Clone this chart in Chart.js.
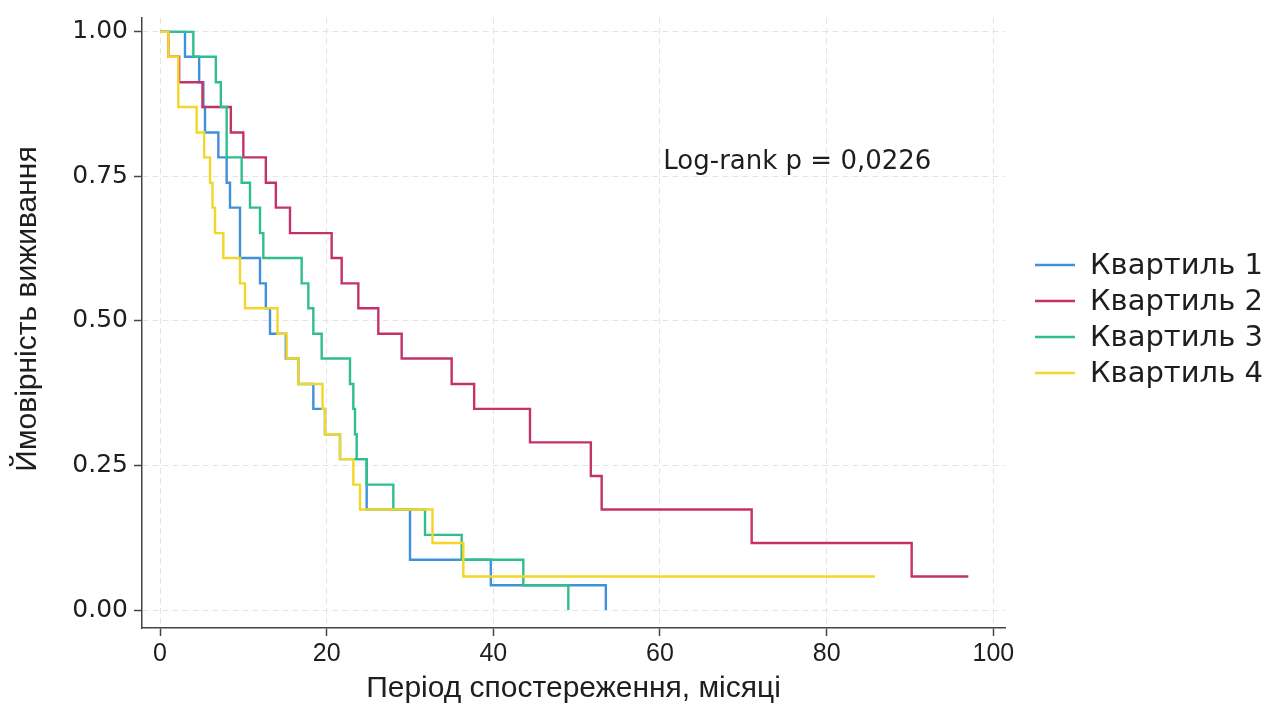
<!DOCTYPE html>
<html lang="uk">
<head>
<meta charset="utf-8">
<title>Криві виживання за квартилями</title>
<script src="https://cdn.jsdelivr.net/npm/chart.js@4.4.1/dist/chart.umd.min.js"></script>
<style>
  html, body { margin: 0; padding: 0; background: #ffffff; }
  #wrap { width: 1276px; height: 703px; }
</style>
</head>
<body>
<div id="wrap"><canvas id="km" width="1276" height="703"></canvas></div>
<script>
// Kaplan–Meier steps: month of each event and the survival estimate after it
const seriesNames = ['Квартиль 1', 'Квартиль 2', 'Квартиль 3', 'Квартиль 4'];

const q1Months = [0, 3.0, 4.7, 5.2, 5.4, 7.0, 8.0, 8.4, 9.6, 12.0, 12.7, 13.2, 15.1, 16.6, 18.4, 19.8, 21.6, 24.8, 30.0, 39.7, 53.5];
const q1Surv   = [1, 0.957, 0.913, 0.870, 0.826, 0.783, 0.739, 0.696, 0.609, 0.565, 0.522, 0.478, 0.435, 0.391, 0.348, 0.304, 0.261, 0.174, 0.087, 0.043, 0];

const q2Months = [0, 1.0, 2.3, 5.1, 8.5, 10.0, 12.7, 13.9, 15.6, 20.6, 21.8, 23.8, 26.2, 29.0, 35.0, 37.7, 44.4, 51.7, 53.0, 71.0, 90.2, 97.0];
const q2Surv   = [1, 0.957, 0.913, 0.870, 0.826, 0.783, 0.739, 0.696, 0.652, 0.609, 0.565, 0.522, 0.478, 0.435, 0.391, 0.348, 0.290, 0.232, 0.174, 0.116, 0.058, 0.058];

const q3Months = [0, 4.0, 6.7, 7.3, 8.0, 9.8, 10.8, 12.0, 12.4, 17.0, 17.8, 18.4, 19.4, 22.8, 23.2, 23.4, 23.6, 24.8, 28.0, 31.8, 36.2, 43.6, 49.0];
const q3Surv   = [1, 0.957, 0.913, 0.870, 0.783, 0.739, 0.696, 0.652, 0.609, 0.565, 0.522, 0.478, 0.435, 0.391, 0.348, 0.304, 0.261, 0.217, 0.174, 0.130, 0.087, 0.043, 0];

const q4Months = [0, 1.0, 2.2, 4.4, 5.3, 6.0, 6.3, 6.6, 7.6, 9.6, 10.2, 14.1, 15.2, 16.6, 19.5, 19.8, 21.6, 23.2, 24.0, 32.7, 36.4, 85.8];
const q4Surv   = [1, 0.957, 0.870, 0.826, 0.783, 0.739, 0.696, 0.652, 0.609, 0.565, 0.522, 0.478, 0.435, 0.391, 0.348, 0.304, 0.261, 0.217, 0.174, 0.116, 0.058, 0.058];

const xTickValues = [0, 20, 40, 60, 80, 100];
const yTickValues = [0, 0.25, 0.5, 0.75, 1];

const xAxisTitle = 'Період спостереження, місяці';
const yAxisTitle = 'Ймовірність виживання';
const testLabel  = 'Log-rank p = 0,0226';

// ---- presentation ----
const lineColors = ['#3f91dc', '#c4326b', '#2fbf8c', '#f3d62a'];
const FONT = '"Liberation Sans", Arial, Helvetica, sans-serif';
const WIDE = '"DejaVu Sans", Verdana, sans-serif';
const TEXT = '#1e1e1e';
const AXIS = '#444444';
const GRID = '#e4e4e4';

const toPoints = (months, surv) => months.map((m, i) => ({ x: m, y: surv[i] }));
const curves = [
  toPoints(q1Months, q1Surv),
  toPoints(q2Months, q2Surv),
  toPoints(q3Months, q3Surv),
  toPoints(q4Months, q4Surv)
];

const datasets = curves.map((pts, i) => ({
  label: seriesNames[i],
  data: pts,
  borderColor: lineColors[i],
  backgroundColor: lineColors[i],
  borderWidth: 2.4,
  stepped: 'before',
  pointRadius: 0,
  pointHoverRadius: 0,
  fill: false,
  tension: 0,
  order: curves.length - i   // later quartiles are painted over earlier ones
}));

// Legend on the right, rotated y title and the test annotation inside the plot
const sidePieces = {
  id: 'sidePieces',
  afterDraw(chart) {
    const ctx = chart.ctx;
    const xs = chart.scales.x, ys = chart.scales.y;
    ctx.save();
    ctx.fillStyle = TEXT;
    ctx.textAlign = 'left';
    ctx.textBaseline = 'middle';

    ctx.font = '26px ' + WIDE;
    ctx.fillText(testLabel, xs.getPixelForValue(60.4), ys.getPixelForValue(0.775));

    // y axis title, rotated
    ctx.save();
    ctx.translate(28, 309);
    ctx.rotate(-Math.PI / 2);
    ctx.textAlign = 'center';
    ctx.font = '30px ' + FONT;
    ctx.fillText(yAxisTitle, 0, 0);
    ctx.restore();

    const left = chart.chartArea.right + 30;
    const firstY = 265, step = 36;
    chart.data.datasets.forEach((ds, i) => {
      const y = firstY + i * step;
      ctx.strokeStyle = ds.borderColor;
      ctx.lineWidth = 2.4;
      ctx.beginPath();
      ctx.moveTo(left, y);
      ctx.lineTo(left + 40, y);
      ctx.stroke();
      ctx.fillStyle = TEXT;
      ctx.font = '29px ' + WIDE;
      ctx.fillText(ds.label, left + 55, y + 1);
    });
    ctx.restore();
  }
};

new Chart(document.getElementById('km'), {
  type: 'line',
  data: { datasets },
  plugins: [sidePieces],
  options: {
    responsive: false,
    animation: false,
    devicePixelRatio: 1,
    layout: { padding: { left: 0, top: 18, right: 271, bottom: 0 } },
    plugins: {
      legend: { display: false },
      tooltip: { enabled: false },
      title: { display: false }
    },
    scales: {
      x: {
        type: 'linear',
        min: -2.16,
        max: 101.4,
        afterBuildTicks(scale) { scale.ticks = xTickValues.map(v => ({ value: v })); },
        afterFit(scale) { scale.height = 75; scale.paddingLeft = 0; scale.paddingRight = 0; },
        ticks: {
          color: TEXT,
          font: { family: FONT, size: 25 },
          padding: 3,
          maxRotation: 0,
          callback: v => String(v)
        },
        grid: {
          color: GRID,
          lineWidth: 1,
          tickColor: AXIS,
          tickLength: 8,
          tickWidth: 1.5
        },
        border: { display: true, color: AXIS, width: 1.5, dash: [6, 4] },
        title: {
          display: true,
          text: xAxisTitle,
          color: TEXT,
          font: { family: FONT, size: 30 },
          padding: { top: 0, bottom: -4 }
        }
      },
      y: {
        type: 'linear',
        min: -0.031,
        max: 1.024,
        afterBuildTicks(scale) { scale.ticks = yTickValues.map(v => ({ value: v })); },
        afterFit(scale) { scale.width = 142; scale.paddingTop = 0; scale.paddingBottom = 0; },
        ticks: {
          color: TEXT,
          font: { family: WIDE, size: 25 },
          padding: 6,
          callback: v => Number(v).toFixed(2)
        },
        grid: {
          color: GRID,
          lineWidth: 1,
          tickColor: AXIS,
          tickLength: 8,
          tickWidth: 1.5
        },
        border: { display: true, color: AXIS, width: 1.5, dash: [6, 4] },
        title: { display: false }
      }
    }
  }
});
</script>
</body>
</html>
